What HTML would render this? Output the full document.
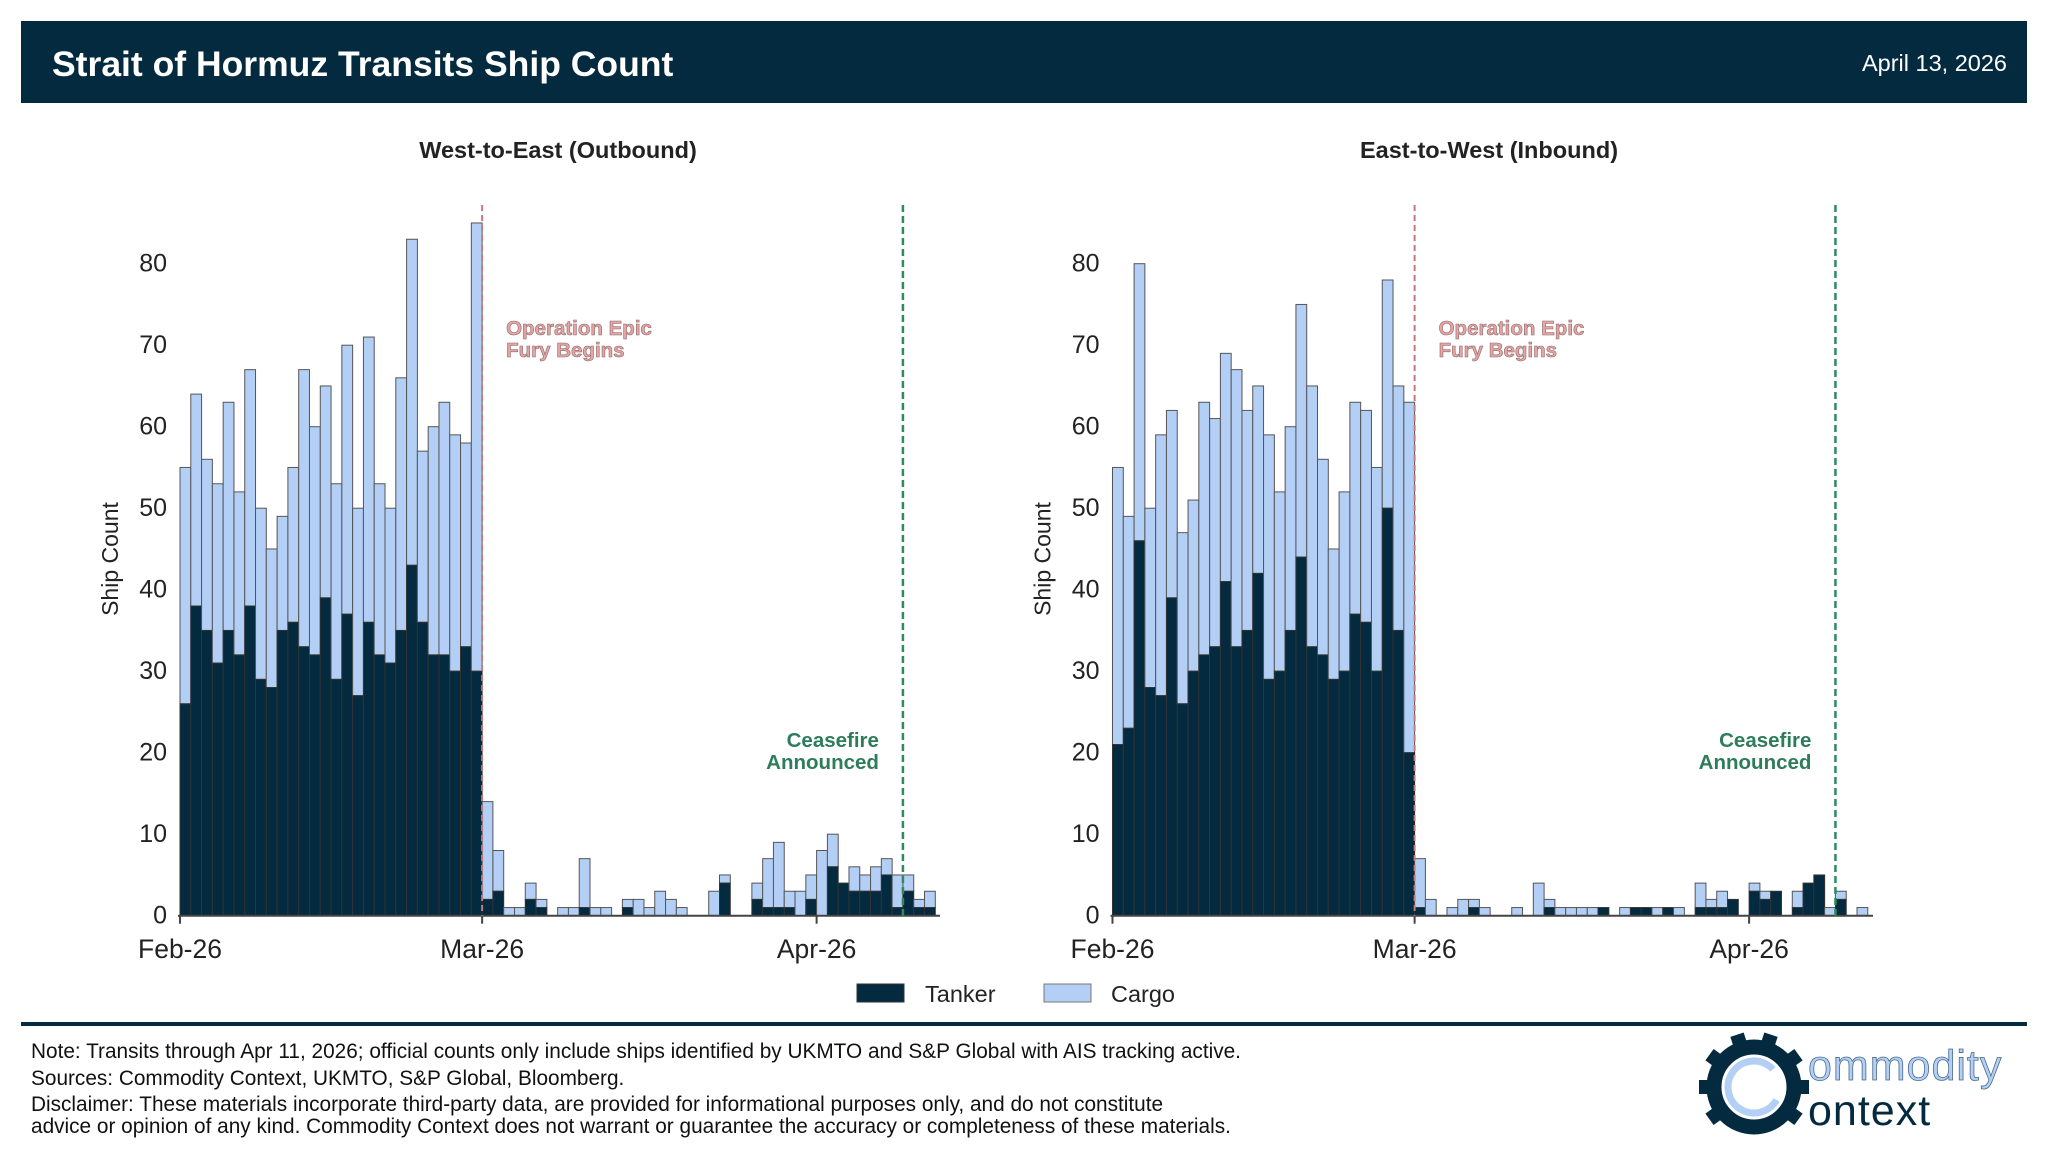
<!DOCTYPE html>
<html><head><meta charset="utf-8"><style>
body{margin:0;width:2048px;height:1169px;background:#fff;overflow:hidden;font-family:"Liberation Sans",Arial,sans-serif}
</style></head><body>
<svg id="svg" width="2048" height="1169" xmlns="http://www.w3.org/2000/svg" font-family="Liberation Sans, Arial, sans-serif">
<rect x="21" y="21" width="2006" height="82" fill="#032a3e"/>
<text x="52" y="76" fill="#fff" font-size="35.5" font-weight="bold">Strait of Hormuz Transits Ship Count</text>
<text x="2007" y="71" fill="#fff" font-size="23.5" text-anchor="end">April 13, 2026</text>
<g id="left"></g>
<g id="right"></g>
<g>
<rect x="857" y="984" width="47" height="18" fill="#032a3e" stroke="#333" stroke-width="1"/>
<text x="925" y="1002" font-size="23.5" fill="#222">Tanker</text>
<rect x="1044" y="984" width="47" height="18" fill="#b3cff5" stroke="#777" stroke-width="1"/>
<text x="1111" y="1002" font-size="23.5" fill="#222">Cargo</text>
</g>
<rect x="21" y="1022" width="2006" height="4" fill="#032a3e"/>
<g font-size="20.8" fill="#111">
<text x="31" y="1058">Note: Transits through Apr 11, 2026; official counts only include ships identified by UKMTO and S&amp;P Global with AIS tracking active.</text>
<text x="31" y="1085">Sources: Commodity Context, UKMTO, S&amp;P Global, Bloomberg.</text>
<text x="31" y="1111">Disclaimer: These materials incorporate third-party data, are provided for informational purposes only, and do not constitute</text>
<text x="31" y="1133">advice or opinion of any kind. Commodity Context does not warrant or guarantee the accuracy or completeness of these materials.</text>
</g>
<g>
<g id="gear" transform="translate(1754,1087)"></g>
<circle cx="1754" cy="1087" r="26" fill="none" stroke="#b3cff5" stroke-width="7" stroke-dasharray="130 34" transform="rotate(30 1754 1087)"/>
<text x="1808" y="1080" font-size="43" fill="#b3cff5" stroke="#4a6a8a" stroke-width="0.8" letter-spacing="1">ommodity</text>
<text x="1808" y="1125" font-size="43" fill="#032a3e" letter-spacing="1">ontext</text>
</g>
</svg>
<script>
const outTanker=[26,38,35,31,35,32,38,29,28,35,36,33,32,39,29,37,27,36,32,31,35,43,36,32,32,30,33,30,
2,3,0,0,2,1,0,0,0,1,0,0,0,1,0,0,0,0,0,0,0,0,4,0,0,2,1,1,1,0,2,
0,6,4,3,3,3,5,1,3,1,1];
const outTotal=[55,64,56,53,63,52,67,50,45,49,55,67,60,65,53,70,50,71,53,50,66,83,57,60,63,59,58,85,
14,8,1,1,4,2,0,1,1,7,1,1,0,2,2,1,3,2,1,0,0,3,5,0,0,4,7,9,3,3,5,
8,10,4,6,5,6,7,5,5,2,3];
const inTanker=[21,23,46,28,27,39,26,30,32,33,41,33,35,42,29,30,35,44,33,32,29,30,37,36,30,50,35,20,
1,0,0,0,0,1,0,0,0,0,0,0,1,0,0,0,0,1,0,0,1,1,0,1,0,0,1,1,1,2,0,
3,2,3,0,1,4,5,0,2,0,0];
const inTotal=[55,49,80,50,59,62,47,51,63,61,69,67,62,65,59,52,60,75,65,56,45,52,63,62,55,78,65,63,
7,2,0,1,2,2,1,0,0,1,0,4,2,1,1,1,1,1,0,1,1,1,1,1,1,0,4,2,3,2,0,
4,3,3,0,3,4,5,1,3,0,1];
const yTicks=[0,10,20,30,40,50,60,70,80];
const xTickIdx=[0,28,59];
const xTickLabels=["Feb-26","Mar-26","Apr-26"];
const eventIdx=[28,67];
const NS="http://www.w3.org/2000/svg";
function mk(p,tag,a){const e=document.createElementNS(NS,tag);for(const k in a)e.setAttribute(k,a[k]);p.appendChild(e);return e;}
function panel(g,x0,title,titleX,tank,tot,axEnd){
  const dw=10.79, base=915.7, py=8.15;
  const X=i=>x0+i*dw, Y=v=>base-v*py;
  let t=mk(g,'text',{x:titleX,y:158,'font-size':23.5,'font-weight':'bold','text-anchor':'middle',fill:'#222'});
  t.textContent=title;
  
  
  yTicks.forEach(v=>{const e=mk(g,'text',{x:x0-13,y:Y(v)+8,'font-size':25,'text-anchor':'end',fill:'#222'});e.textContent=v;
  
  });
  const yl=mk(g,'text',{x:0,y:0,'font-size':23,'text-anchor':'middle',fill:'#222',transform:`translate(${x0-62},559) rotate(-90)`});
  yl.textContent='Ship Count';
  
  
  tot.forEach((v,i)=>{
    const c=tot[i]-tank[i];
    if(c>0){const r=mk(g,'rect',{x:X(i),y:Y(tot[i]),width:dw,height:c*py,fill:'#b3cff5',stroke:'#555','stroke-width':1});
      
      }
    if(tank[i]>0){const r=mk(g,'rect',{x:X(i),y:Y(tank[i]),width:dw,height:tank[i]*py,fill:'#032a3e',stroke:'#333','stroke-width':1});
      
      }
  });
  const ax=mk(g,'line',{x1:x0-2,x2:axEnd,y1:base,y2:base,stroke:'#444','stroke-width':2});
  
  
  xTickIdx.forEach((d,k)=>{mk(g,'line',{x1:X(d),x2:X(d),y1:base,y2:base+8,stroke:'#444','stroke-width':2});
    const e=mk(g,'text',{x:X(d),y:958,'font-size':26.5,'text-anchor':'middle',fill:'#222'});e.textContent=xTickLabels[k];
    
    });
  const l1=mk(g,'line',{x1:X(eventIdx[0]),x2:X(eventIdx[0]),y1:205,y2:base,stroke:'#c87a7a','stroke-width':2,'stroke-dasharray':'6,4'});
  
  
  const l2=mk(g,'line',{x1:X(eventIdx[1]),x2:X(eventIdx[1]),y1:205,y2:base,stroke:'#2e8b5e','stroke-width':2.5,'stroke-dasharray':'7,4'});
  
  
  [['Operation Epic',335],['Fury Begins',357]].forEach(([s,y])=>{const e=mk(g,'text',{x:X(eventIdx[0])+24,y:y,'font-size':20.5,'font-weight':'bold',fill:'#e8a3a3',stroke:'#8a6a6a','stroke-width':0.6});e.textContent=s;
    
    });
  [['Ceasefire',747],['Announced',769]].forEach(([s,y])=>{const e=mk(g,'text',{x:X(eventIdx[1])-24,y:y,'font-size':20.5,'font-weight':'bold','text-anchor':'end',fill:'#2e7d5a'});e.textContent=s;
    
    });
}
panel(document.getElementById('left'),180,'West-to-East (Outbound)',558,outTanker,outTotal,940);
panel(document.getElementById('right'),1112.5,'East-to-West (Inbound)',1489,inTanker,inTotal,1873);
const gear=document.getElementById('gear');
mk(gear,'circle',{cx:0,cy:0,r:40,fill:'none',stroke:'#032a3e','stroke-width':15});
for(let k=0;k<10;k++){const a=k*36;if(a>40&&a<140)continue;
  mk(gear,'rect',{x:-7,y:-55,width:14,height:13,fill:'#032a3e',transform:`rotate(${a+90})`});}
</script>
</body></html>
